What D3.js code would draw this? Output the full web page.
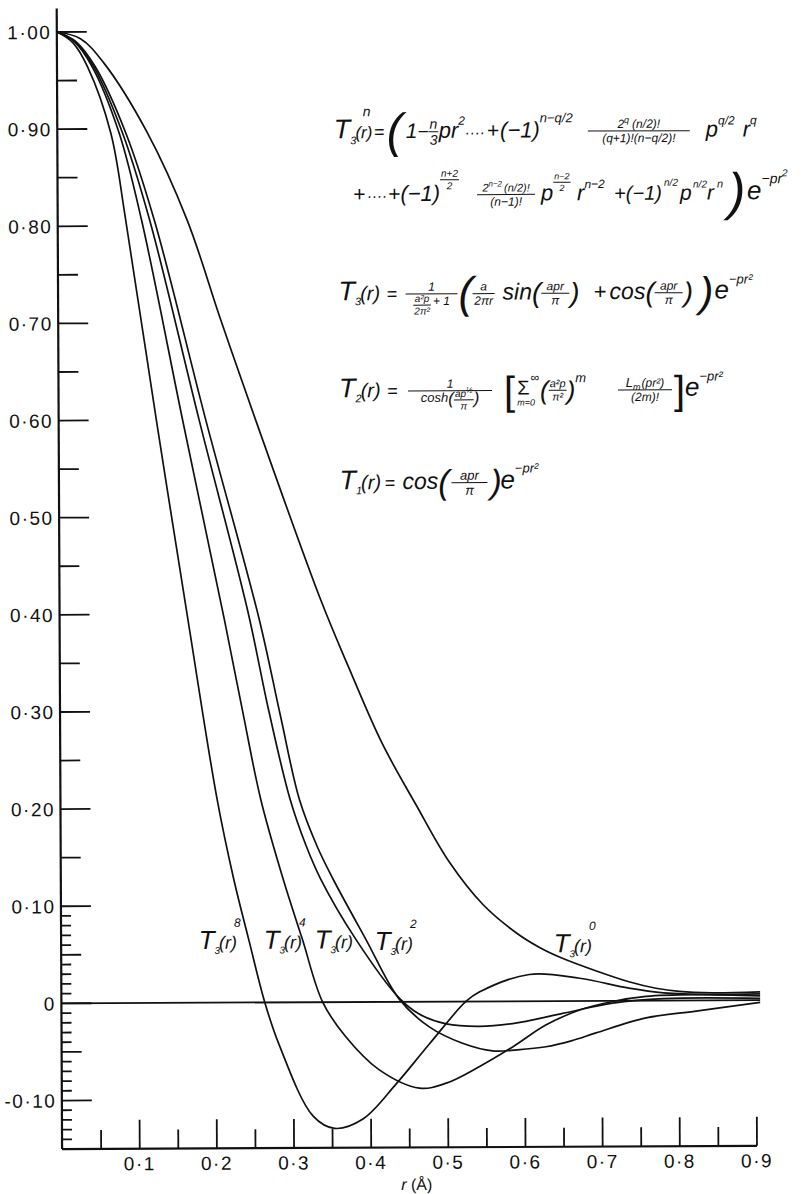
<!DOCTYPE html>
<html><head><meta charset="utf-8">
<script src="https://cdn.jsdelivr.net/npm/d3@7"></script>
<style>
html,body{margin:0;padding:0;background:#fff;}
svg{display:block;}
.f text{font-family:'Liberation Sans',Arial,sans-serif;font-style:italic;fill:#111;}
.ax text{font-family:'Liberation Sans',Arial,sans-serif;fill:#111;}
</style></head><body>
<svg id="chart" width="807" height="1194"></svg>
<script>
// ---------- data (r in Å, value of T) ----------
const T3_8 = [[0,1],[0.02,0.989],[0.039,0.964],[0.0686,0.896],[0.0875,0.806],[0.126,0.600],[0.1658,0.394],[0.2025,0.209],[0.2235,0.127],[0.2425,0.065],[0.263,0.0],[0.281,-0.043],[0.3247,-0.117],[0.3528,-0.130],[0.3895,-0.1205],[0.4328,-0.0845],[0.476,-0.0436],[0.5236,0.0],[0.541,0.0096],[0.606,0.0275],[0.671,0.0234],[0.735,0.013],[0.78,0.008],[0.84,0.006],[0.905,0.0065]];
const T3_4 = [[0,1],[0.022,0.99],[0.045,0.964],[0.0794,0.896],[0.108,0.806],[0.160,0.600],[0.213,0.394],[0.236,0.300],[0.259,0.209],[0.2875,0.127],[0.312,0.065],[0.338,0.0],[0.368,-0.036],[0.411,-0.070],[0.463,-0.089],[0.4977,-0.084],[0.541,-0.067],[0.584,-0.047],[0.627,-0.0247],[0.671,-0.0093],[0.714,-0.0007],[0.757,0.0044],[0.82,0.006],[0.905,0.0044]];
const T3_1 = [[0,1],[0.023,0.99],[0.047,0.964],[0.0838,0.896],[0.1185,0.806],[0.1814,0.600],[0.243,0.404],[0.270,0.300],[0.297,0.209],[0.318,0.160],[0.336,0.127],[0.381,0.065],[0.437,0.004],[0.463,-0.0127],[0.498,-0.023],[0.541,-0.0257],[0.584,-0.023],[0.649,-0.0127],[0.714,-0.0024],[0.78,0.002],[0.905,0.0018]];
const T3_2 = [[0,1],[0.024,0.99],[0.049,0.964],[0.088,0.896],[0.1245,0.806],[0.19,0.600],[0.2582,0.394],[0.285,0.295],[0.309,0.209],[0.332,0.160],[0.352,0.127],[0.394,0.065],[0.437,0.003],[0.476,-0.026],[0.519,-0.043],[0.558,-0.051],[0.59,-0.050],[0.627,-0.047],[0.66,-0.041],[0.692,-0.033],[0.757,-0.0178],[0.822,-0.011],[0.905,-0.0024]];
const T3_0 = [[0,1],[0.03,0.993],[0.06,0.968],[0.116,0.896],[0.167,0.806],[0.21,0.703],[0.2545,0.600],[0.3375,0.415],[0.3735,0.345],[0.4167,0.266],[0.46,0.203],[0.503,0.1436],[0.546,0.100],[0.59,0.070],[0.62,0.055],[0.649,0.044],[0.692,0.031],[0.735,0.0195],[0.770,0.0127],[0.800,0.0093],[0.843,0.0077],[0.905,0.0085]];
const seriesList = [T3_8, T3_4, T3_1, T3_2, T3_0];

const yTickValues = [1.0,0.9,0.8,0.7,0.6,0.5,0.4,0.3,0.2,0.1,0,-0.1];
const yTickLabels = ['1·00','0·90','0·80','0·70','0·60','0·50','0·40','0·30','0·20','0·10','0','-0·10'];
const xTickValues = [0.1,0.2,0.3,0.4,0.5,0.6,0.7,0.8,0.9];
const xTickLabels = ['0·1','0·2','0·3','0·4','0·5','0·6','0·7','0·8','0·9'];

// ---------- scales ----------
const x = d3.scaleLinear().domain([0, 0.9]).range([60, 754.4]);
const y = d3.scaleLinear().domain([-0.15, 1.0]).range([1147.5, 30.4]);

const svg = d3.select('#chart');
svg.append('rect').attr('width',807).attr('height',1194).attr('fill','#fff');
const root = svg.append('g').attr('transform','rotate(-0.27,400,600)');
const ax = root.append('g').attr('class','ax');
const axisX0 = 59.5;

ax.append('line').attr('x1',axisX0).attr('x2',axisX0).attr('y1',7).attr('y2',y(-0.15)).attr('stroke','#111').attr('stroke-width',2.2);
ax.append('line').attr('x1',axisX0).attr('x2',x(0.9)).attr('y1',y(-0.15)).attr('y2',y(-0.15)).attr('stroke','#111').attr('stroke-width',2.2);
ax.append('line').attr('x1',axisX0).attr('x2',x(0.905)).attr('y1',y(0)).attr('y2',y(0)).attr('stroke','#111').attr('stroke-width',1.8);

const yMinor = d3.range(-14, 101).map(i => i/100);
yMinor.forEach(v => {
  const k = Math.round(v*100);
  let len;
  if (k % 10 === 0) len = 30;
  else if (k % 5 === 0) len = 20;
  else if (k < 10) len = 10;
  else return;
  ax.append('line').attr('x1',axisX0).attr('x2',axisX0+len).attr('y1',y(v)).attr('y2',y(v))
    .attr('stroke','#111').attr('stroke-width',1.8);
});
yTickValues.forEach((v,i) => {
  ax.append('text').attr('x',54).attr('y',y(v)+7).attr('text-anchor','end')
    .attr('font-size',19).attr('letter-spacing',1.5).text(yTickLabels[i]);
});
d3.range(1, 19).map(i => i*0.05).forEach((v,i) => {
  const major = (i % 2 === 1);
  ax.append('line').attr('x1',x(v)).attr('x2',x(v)).attr('y1',y(-0.15)).attr('y2',y(-0.15)-(major?29:19))
    .attr('stroke','#111').attr('stroke-width',1.8);
});
xTickValues.forEach((v,i) => {
  ax.append('text').attr('x',x(v)).attr('y',1169).attr('text-anchor','middle')
    .attr('font-size',19).attr('letter-spacing',1.5).text(xTickLabels[i]);
});
const xt = ax.append('text').attr('x',414).attr('y',1190).attr('text-anchor','middle').attr('font-size',16);
xt.append('tspan').attr('font-style','italic').text('r');
xt.append('tspan').text(' (Å)');

const line = d3.line().x(d => x(d[0])).y(d => y(d[1])).curve(d3.curveCatmullRom.alpha(0.5));
root.append('g').selectAll('path').data(seriesList).join('path')
  .attr('d', line).attr('fill','none').attr('stroke','#111').attr('stroke-width',1.7);

// ---------- formula mini layout ----------
const fg = root.append('g').attr('class','f');
function flow(p, x0, y0, items){ let xx = x0; for (const it of items) xx += it(p, xx, y0); return xx - x0; }
function T(s, size=22, dy=0, extra=0, upright=false){
  return (p, xx, yy) => {
    const e = p.append('text').attr('x',xx).attr('y',yy+dy).attr('font-size',size).text(s);
    if (upright) e.style('font-style','normal');
    return e.node().getComputedTextLength() + extra;
  };
}
const at = X => (p, xx) => X - xx;
function F(num, den, size=12, dy=0, gap=2, minW=0){
  return (p, xx, yy) => {
    const g = p.append('g');
    const axisY = yy + dy - 6;
    const gn = g.append('g'), gd = g.append('g');
    const wn = flow(gn, 0, axisY - 3, num);
    const wd = flow(gd, 0, axisY + size*0.85 + 1, den);
    const w = Math.max(wn, wd, minW) + 2;
    gn.attr('transform', `translate(${xx + (w-wn)/2},0)`);
    gd.attr('transform', `translate(${xx + (w-wd)/2},0)`);
    g.append('line').attr('x1',xx).attr('x2',xx+w).attr('y1',axisY).attr('y2',axisY)
      .attr('stroke','#111').attr('stroke-width',1);
    return w + gap;
  };
}
function SIGMA(){
  return (p, xx, yy) => {
    const e = p.append('text').attr('x',xx).attr('y',yy-2).attr('font-size',20).style('font-style','normal').text('Σ');
    const w = e.node().getComputedTextLength();
    p.append('text').attr('x',xx+w+1).attr('y',yy-15).attr('font-size',12).text('∞');
    p.append('text').attr('x',xx).attr('y',yy+9).attr('font-size',9).text('m=0');
    return w + 14;
  };
}

// T3^n formula, line 1
flow(fg, 336, 138, [
  T('T',27), T('3',11,6,-1), T('(r)',17), at(365), T('n',14,-22), at(376), T('=',18), at(389), T('(',48,9),
  at(408), T('1',21), T(' − ',19), F([T('n',14)],[T('3',14)],14,0,1), at(441), T('pr',22), T('2',12,-13,2), at(467), T('····',15),
  at(489), T('+',21,0,1), T('(−1)',22), T('n−q/2',13,-15,10),
  at(590), F([T('2',12),T('q',9,-5,3),T('(n/2)!',12)],[T('(q+1)!(n−q/2)!',12)],12,0,14,100),
  at(708), T('p',22), T('q/2',12,-12,8), at(745), T('r',22), T('q',12,-12)
]);
// line 2
flow(fg, 355, 201, [
  T('+',21,0,1), at(369), T('····',15), at(390), T('+',21,0,0), T('(−1)',22), at(442), F([T('n+2',10)],[T('2',10)],10,-15,10),
  at(479), F([T('2',11),T('n−2',8,-5,2),T('(n/2)!',11)],[T('(n−1)!',12)],12,0,4,56),
  at(543), T('p',22), F([T('n−2',9)],[T('2',9)],9,-12,2), at(579), T('r',22), T('n−2',12,-12,6),
  at(616), T('+(−1)',20), at(666), T('n/2',10,-14), at(682), T('p',21), at(695), T('n/2',10,-12), at(709), T('r',21), at(719), T('n',11,-12),
  at(730), T(')',52,10), at(749), T('e',26), T('−pr',14,-16), T('2',10,-23)
]);
// T3 formula
flow(fg, 340, 300, [
  T('T',27), T('3',11,5,-1), T('(r)',20), at(388), T('=',18),
  at(407), F([T('1',12)],[F([T('a²p',10)],[T('2π²',10)],10,6,2),T(' + 1',12)],12,0,2,50),
  at(460), T('(',44,8), at(474), F([T('a',12)],[T('2πr',12)],12,0,10,20),
  at(504), T('sin',23), T('(',28,3), F([T('apr',12)],[T('π',12)],12,0,1,26), T(')',28,3),
  at(595), T('+',22), at(611), T('cos',23), T('(',28,3), F([T('apr',12)],[T('π',12)],12,0,1,26), T(')',28,3),
  at(701), T(')',42,8), at(716), T('e',26), T('−pr²',13,-15)
]);
// T2 formula
flow(fg, 340, 397, [
  T('T',27), T('2',11,5,-1), T('(r)',20), at(388), T('=',18),
  at(409), F([T('1',12)],[T('cosh',13), T('(',17,2), F([T('ap',10),T('½',8,-4)],[T('π',10)],10,4,0), T(')',17,2)],12,0,12,82),
  at(505), T('[',40,8,2,true), SIGMA(), at(541), T('(',26,3), F([T('a²p',11)],[T('π²',11)],11,0,0), T(')',26,3), T('m',13,-14,12),
  at(619), F([T('L',13),T('m',9,3,1),T('(pr²)',12)],[T('(2m)!',12)],12,0,2,52),
  at(675), T(']',40,8,2,true), at(686), T('e',26), T('−pr²',13,-15)
]);
// T1 formula
flow(fg, 340, 489, [
  T('T',27), T('1',11,5,-1), T('(r)',20), at(385), T('=',18), at(403), T('cos',23), T('(',34,5,3),
  at(452), F([T('apr',13)],[T('π',13)],13,0,2,34), at(491), T(')',34,5), at(501), T('e',26), T('−pr²',13,-16)
]);

// curve labels
const labels = [
  {x:197, y:948, sup:'8'}, {x:262, y:948, sup:'4'}, {x:313, y:948, sup:''},
  {x:373, y:950, sup:'2'}, {x:552, y:953, sup:'0'}
];
labels.forEach(l => {
  flow(fg, l.x, l.y, [T('T',26), T('3',10,5,-1), T('(r)',18,0,-3), T(l.sup,12,-22)]);
});
</script>
</body></html>
